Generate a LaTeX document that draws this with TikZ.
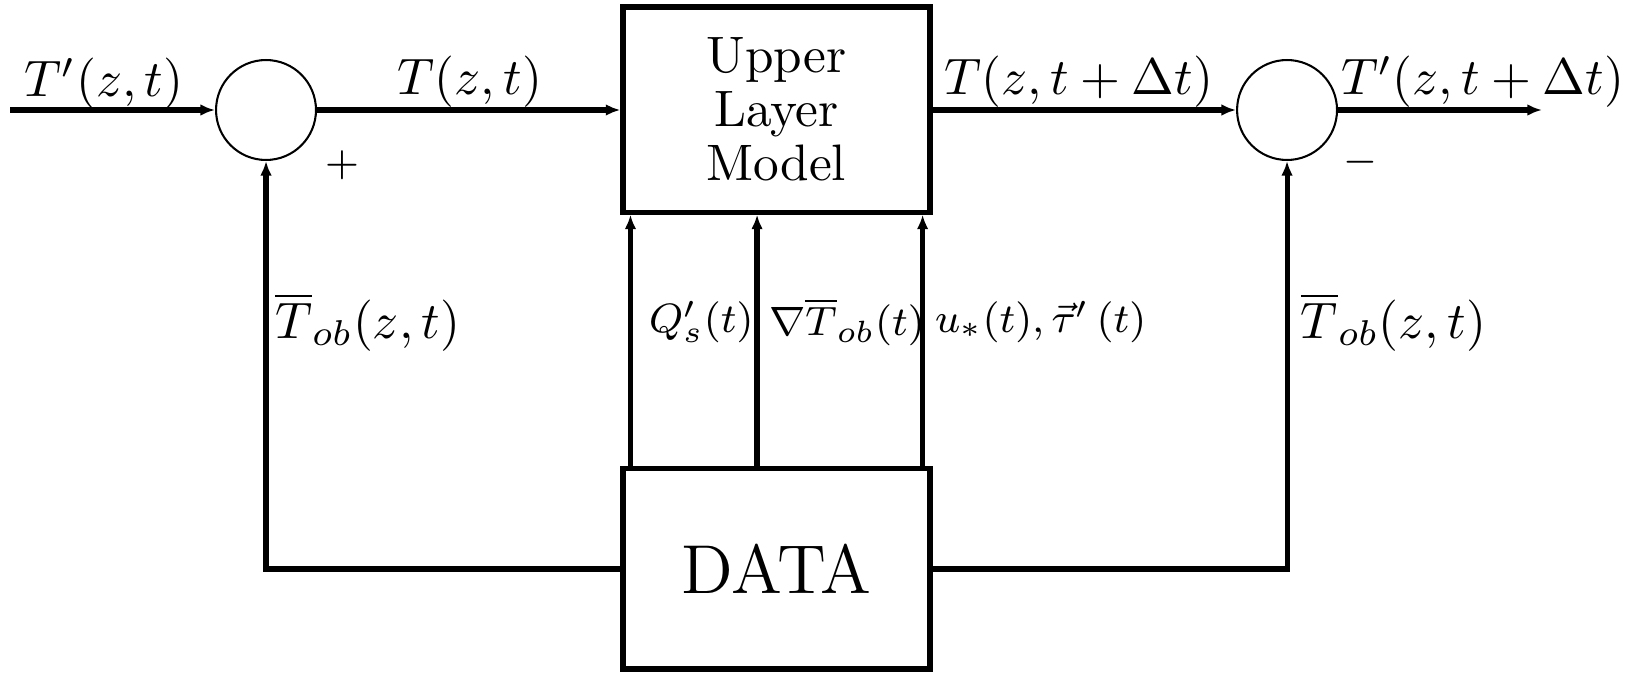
\documentclass[tikz,border=0pt]{standalone}
\usepackage{amsmath}
\usepackage{amssymb}
\usepackage{tikz}
\usetikzlibrary{arrows.meta,positioning}

\begin{document}
\begin{tikzpicture}[
    sumnode/.style={circle,draw,thin,minimum size=0.685cm,inner sep=0pt},
    blockbox/.style={rectangle,draw,line width=1pt,minimum width=2.104cm,align=center},
    conn/.style={line width=1pt,-{Latex[length=1mm,width=0.8mm]}}]
      \useasboundingbox (0,0) rectangle (11.225,4.612);
      % summing points and blocks
      \node[sumnode] (sumL) at (1.823,3.858) {};
      \node[sumnode] (sumR) at (8.820,3.858) {};
      \node[blockbox,minimum height=1.405cm] (ulm) at (5.321,3.861) {Upper\\[-1.5pt]Layer\\[-1.5pt]Model};
      \node[blockbox,minimum height=1.371cm,font={\fontsize{13.5}{16}\selectfont}] (data) at (5.321,0.713) {DATA};
      \coordinate (in) at (0.069,3.858);
      \coordinate (out) at (10.567,3.858);
      % forward path
      \draw[conn] (in) -- (sumL.west);
      \draw[conn] (sumL.east) -- (sumL.east -| ulm.west);
      \draw[conn] (sumR.west -| ulm.east) -- (sumR.west);
      \draw[conn] (sumR.east) -- (out);
      % data to the blocks
      \draw[conn] (data.west) -| (sumL.south);
      \draw[conn] (data.east) -| (sumR.south);
      \draw[conn] ([xshift=0.069cm]data.north west) -- ([xshift=0.069cm]ulm.south west);
      \draw[conn] ([xshift=-0.133cm]data.north) -- ([xshift=-0.133cm]ulm.south);
      \draw[conn] ([xshift=-0.068cm]data.north east) -- ([xshift=-0.068cm]ulm.south east);
      % labels
      \node (lTin) at (0.713,4.036) {$T'(z,t)$};
      \node (lT) at (3.221,4.050) {$T(z,t)$};
      \node (lTdt) at (7.394,4.050) {$T(z,t+\Delta t)$};
      \node (lTout) at (10.16,4.050) {$T'(z,t+\Delta t)$};
      \node[font=\footnotesize] (lplus) at (2.344,3.481) {$+$};
      \node[font=\footnotesize] (lminus) at (9.320,3.502) {$-$};
      \node (lobL) at (2.52,2.405) {$\overline{T}_{ob}(z,t)$};
      \node (lobR) at (9.55,2.405) {$\overline{T}_{ob}(z,t)$};
      \node[font=\footnotesize,anchor=west,inner sep=0pt] (lQ) at (4.441,2.405) {$Q'_s(t)$};
      \node[font=\footnotesize,anchor=west,inner sep=0pt] (lgrad) at (5.263,2.405) {$\nabla\overline{T}_{ob}(t)$};
      \node[font=\footnotesize,anchor=west,inner sep=0pt] (ltau) at (6.401,2.405) {$u_*(t),\vec{\tau}'\,(t)$};
    \end{tikzpicture}
\end{document}
